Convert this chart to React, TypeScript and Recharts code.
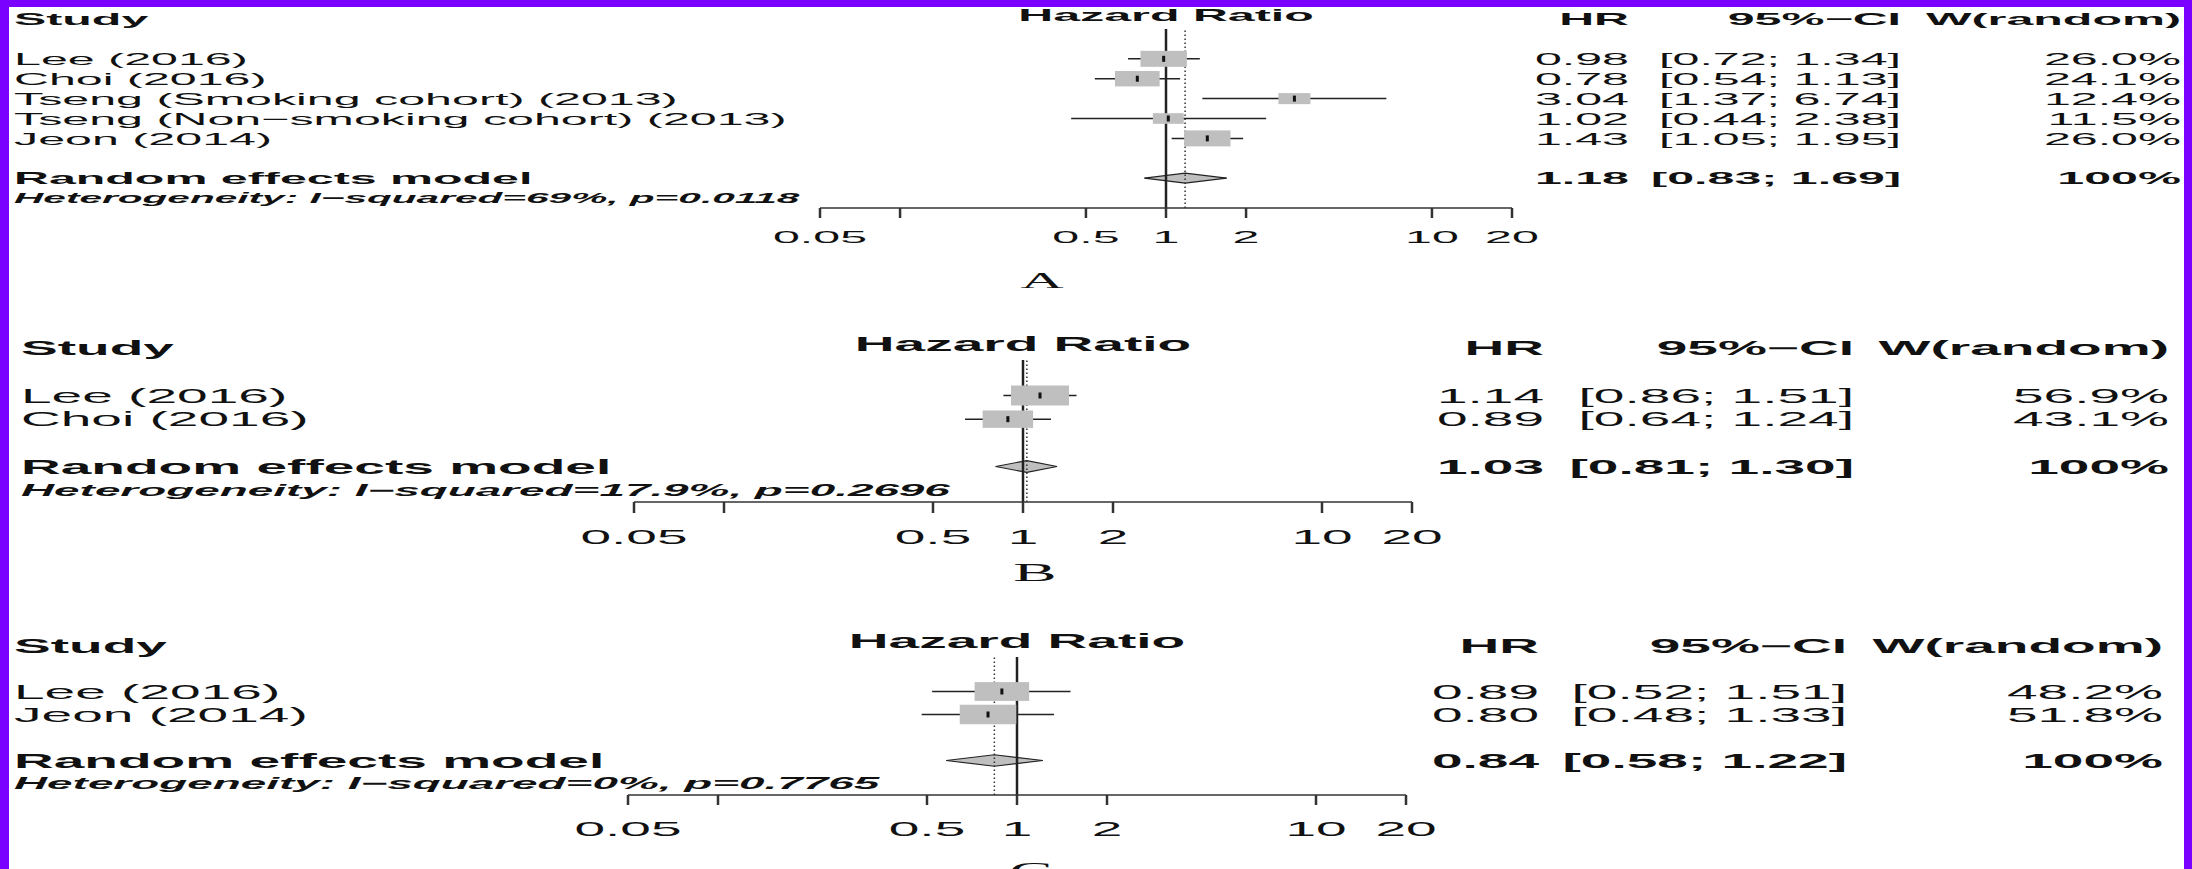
import {
  Area,
  ComposedChart,
  ErrorBar,
  ReferenceLine,
  Scatter,
  XAxis,
  YAxis,
} from 'recharts'

// Panel A: all cohorts
const studiesA = [
  'Lee (2016)',
  'Choi (2016)',
  'Tseng (Smoking cohort) (2013)',
  'Tseng (Non−smoking cohort) (2013)',
  'Jeon (2014)',
]
const hrA = [0.98, 0.78, 3.04, 1.02, 1.43]
const loA = [0.72, 0.54, 1.37, 0.44, 1.05]
const hiA = [1.34, 1.13, 6.74, 2.38, 1.95]
const weightA = [26.0, 24.1, 12.4, 11.5, 26.0]
const pooledA = [1.18, 0.83, 1.69]
const hetA = 'Heterogeneity: I−squared=69%, p=0.0118'

// Panel B
const studiesB = ['Lee (2016)', 'Choi (2016)']
const hrB = [1.14, 0.89]
const loB = [0.86, 0.64]
const hiB = [1.51, 1.24]
const weightB = [56.9, 43.1]
const pooledB = [1.03, 0.81, 1.3]
const hetB = 'Heterogeneity: I−squared=17.9%, p=0.2696'

// Panel C
const studiesC = ['Lee (2016)', 'Jeon (2014)']
const hrC = [0.89, 0.8]
const loC = [0.52, 0.48]
const hiC = [1.51, 1.33]
const weightC = [48.2, 51.8]
const pooledC = [0.84, 0.58, 1.22]
const hetC = 'Heterogeneity: I−squared=0%, p=0.7765'

const TICKS = [0.05, 0.1, 0.5, 1, 2, 10, 20]
const TICK_LABELS = ['0.05', '', '0.5', '1', '2', '10', '20']

const W = 2192
const H = 869
const X_AXIS_H = 30
const SANS = '"Liberation Sans", Arial, Helvetica, sans-serif'
const SERIF = '"Liberation Serif", "Times New Roman", serif'
const INK = '#111'
const BOX_FILL = '#bfbfbf'
const PURPLE = '#7a00ff'
// the source figure is stretched sideways, so text and squares are too
const SX = 2.78
const BOX_ASPECT = 2.9

interface PanelSpec {
  letter: string
  studies: string[]
  hr: number[]
  lo: number[]
  hi: number[]
  weight: number[]
  pooled: number[]
  het: string
  // layout
  x0: number
  x1: number
  top: number
  axisY: number
  fs: number
  fsHet: number
  studyX: number
  hrX: number
  ciX: number
  wX: number
  tickSize: number
  tickDy: number
  boxH: number
  letterX: number
  letterY: number
  letterFs: number
}

const PANELS: PanelSpec[] = [
  {
    letter: 'A', studies: studiesA, hr: hrA, lo: loA, hi: hiA, weight: weightA, pooled: pooledA, het: hetA,
    x0: 820, x1: 1512, top: 29, axisY: 208, fs: 17.4, fsHet: 14.6,
    studyX: 14, hrX: 1629, ciX: 1901, wX: 2181, tickSize: 10, tickDy: 23, boxH: 16,
    letterX: 1042, letterY: 280, letterFs: 23,
  },
  {
    letter: 'B', studies: studiesB, hr: hrB, lo: loB, hi: hiB, weight: weightB, pooled: pooledB, het: hetB,
    x0: 634, x1: 1412, top: 360, axisY: 502, fs: 19.8, fsHet: 16.5,
    studyX: 21, hrX: 1544, ciX: 1854, wX: 2169, tickSize: 11, tickDy: 29, boxH: 20,
    letterX: 1035, letterY: 573, letterFs: 25,
  },
  {
    letter: 'C', studies: studiesC, hr: hrC, lo: loC, hi: hiC, weight: weightC, pooled: pooledC, het: hetC,
    x0: 628, x1: 1406, top: 657, axisY: 795, fs: 19.8, fsHet: 16.5,
    studyX: 14, hrX: 1539, ciX: 1847, wX: 2163, tickSize: 10, tickDy: 29, boxH: 19.5,
    letterX: 1031, letterY: 872, letterFs: 25,
  },
]

function T({
  x, y, fs, anchor = 'start', bold = false, italic = false, family = SANS, sx = SX, children,
}: {
  x: number; y: number; fs: number; anchor?: 'start' | 'middle' | 'end'; bold?: boolean
  italic?: boolean; family?: string; sx?: number; children: React.ReactNode
}) {
  return (
    <text
      transform={`translate(${x},${y}) scale(${sx},1)`}
      textAnchor={anchor}
      fontSize={fs}
      fontWeight={bold ? 700 : 400}
      fontStyle={italic ? 'italic' : 'normal'}
      fontFamily={family}
      fill={INK}
    >
      {children}
    </text>
  )
}

function StretchTick(props: any) {
  const { x, y, payload, fs, dy } = props
  const i = TICKS.indexOf(payload.value)
  return (
    <text
      transform={`translate(${x},${y + dy}) scale(${SX},1)`}
      textAnchor="middle"
      fontSize={fs}
      fontFamily={SANS}
      fill={INK}
    >
      {i >= 0 ? TICK_LABELS[i] : ''}
    </text>
  )
}

function EstMark(props: any) {
  const { cx, cy } = props
  return <rect x={cx - 1.5} y={cy - 3} width={3} height={6} fill={INK} />
}

function ForestChart({ p }: { p: PanelSpec }) {
  const n = p.studies.length
  const wMax = Math.max(...p.weight)
  const rows = p.studies.map((s, i) => ({
    name: s,
    x: p.hr[i],
    y: i + 1,
    w: p.weight[i],
    err: [p.hr[i] - p.lo[i], p.hi[i] - p.hr[i]],
  }))
  const pr = n + 2
  const diamond = [
    { x: p.pooled[1], band: [pr, pr] },
    { x: p.pooled[0], band: [pr - 0.25, pr + 0.25] },
    { x: p.pooled[2], band: [pr, pr] },
  ]

  const Box = (props: any) => {
    const { cx, cy, payload } = props
    const h = p.boxH * Math.sqrt(payload.w / wMax)
    const w = h * BOX_ASPECT
    return <rect x={cx - w / 2} y={cy - h / 2} width={w} height={h} fill={BOX_FILL} />
  }

  return (
    <ComposedChart
      width={W}
      height={H}
      margin={{ top: p.top, bottom: H - p.axisY - X_AXIS_H, left: p.x0, right: W - p.x1 }}
      style={{ position: 'absolute', left: 0, top: 0 }}
    >
      <XAxis
        dataKey="x"
        type="number"
        scale="log"
        domain={[0.05, 20]}
        ticks={TICKS}
        allowDataOverflow
        interval={0}
        height={X_AXIS_H}
        tickSize={p.tickSize}
        axisLine={{ stroke: '#333', strokeWidth: 1.5 }}
        tickLine={{ stroke: '#333', strokeWidth: 2.5 }}
        tick={<StretchTick fs={p.fs} dy={p.tickDy} />}
      />
      <YAxis dataKey="y" type="number" hide reversed domain={[-0.5, n + 3.5]} allowDataOverflow />
      <ReferenceLine x={1} stroke="#222" strokeWidth={2.5} />
      <ReferenceLine x={p.pooled[0]} stroke="#333" strokeWidth={1.5} strokeDasharray="1.5 2.5" />
      <Area
        data={diamond}
        dataKey="band"
        type="linear"
        fill={BOX_FILL}
        fillOpacity={1}
        stroke="#222"
        strokeWidth={1.2}
        isAnimationActive={false}
      />
      <Scatter data={rows} shape={Box} isAnimationActive={false} />
      <Scatter data={rows} shape={EstMark} isAnimationActive={false}>
        <ErrorBar dataKey="err" direction="x" width={0} stroke="#222" strokeWidth={1.5} isAnimationActive={false} />
      </Scatter>
    </ComposedChart>
  )
}

function PanelText({ p }: { p: PanelSpec }) {
  const n = p.studies.length
  const sp = (p.axisY - p.top) / (n + 4)
  const rowY = (r: number) => p.top + (r + 0.5) * sp
  const base = (r: number, fs: number) => rowY(r) + 0.36 * fs
  const mid = (p.x0 + p.x1) / 2
  const headY = base(-1, p.fs)
  const pr = n + 2
  const ci = (lo: number, hi: number) => `[${lo.toFixed(2)}; ${hi.toFixed(2)}]`
  return (
    <g>
      <T x={p.studyX} y={headY} fs={p.fs} bold>Study</T>
      <T x={mid} y={base(-1.2, p.fs)} fs={p.fs} anchor="middle" bold>Hazard Ratio</T>
      <T x={p.hrX} y={headY} fs={p.fs} anchor="end" bold>HR</T>
      <T x={p.ciX} y={headY} fs={p.fs} anchor="end" bold>95%−CI</T>
      <T x={p.wX} y={headY} fs={p.fs} anchor="end" bold>W(random)</T>
      {p.studies.map((s, i) => (
        <g key={s}>
          <T x={p.studyX} y={base(i + 1, p.fs)} fs={p.fs}>{s}</T>
          <T x={p.hrX} y={base(i + 1, p.fs)} fs={p.fs} anchor="end">{p.hr[i].toFixed(2)}</T>
          <T x={p.ciX} y={base(i + 1, p.fs)} fs={p.fs} anchor="end">{ci(p.lo[i], p.hi[i])}</T>
          <T x={p.wX} y={base(i + 1, p.fs)} fs={p.fs} anchor="end">{p.weight[i].toFixed(1)}%</T>
        </g>
      ))}
      <T x={p.studyX} y={base(pr, p.fs)} fs={p.fs} bold>Random effects model</T>
      <T x={p.hrX} y={base(pr, p.fs)} fs={p.fs} anchor="end" bold>{p.pooled[0].toFixed(2)}</T>
      <T x={p.ciX} y={base(pr, p.fs)} fs={p.fs} anchor="end" bold>{ci(p.pooled[1], p.pooled[2])}</T>
      <T x={p.wX} y={base(pr, p.fs)} fs={p.fs} anchor="end" bold>100%</T>
      <T x={p.studyX} y={base(pr + 1, p.fsHet)} fs={p.fsHet} bold italic>{p.het}</T>
      <T x={p.letterX} y={p.letterY + 0.33 * p.letterFs} fs={p.letterFs} anchor="middle" family={SERIF} sx={2.6}>
        {p.letter}
      </T>
    </g>
  )
}

export default function App() {
  return (
    <div
      style={{
        position: 'absolute',
        left: 0,
        top: 0,
        width: W,
        height: H,
        background: '#fff',
        overflow: 'hidden',
      }}
    >
      {PANELS.map((p) => (
        <ForestChart key={p.letter} p={p} />
      ))}
      <svg width={W} height={H} style={{ position: 'absolute', left: 0, top: 0 }}>
        {PANELS.map((p) => (
          <PanelText key={p.letter} p={p} />
        ))}
      </svg>
      <div style={{ position: 'absolute', left: 0, top: 0, width: W, height: 7, background: PURPLE }} />
      <div style={{ position: 'absolute', left: 0, top: 0, width: 9, height: H, background: PURPLE }} />
      <div style={{ position: 'absolute', right: 0, top: 0, width: 8, height: H, background: PURPLE }} />
    </div>
  )
}
